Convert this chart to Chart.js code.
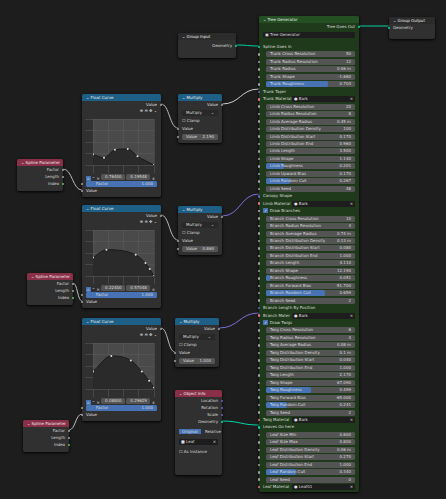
<!DOCTYPE html>
<html lang="en">
<head>
<meta charset="UTF-8">
<title>Tree Generator nodes</title>
<script src="https://cdn.jsdelivr.net/npm/chart.js@4"></script>
<style>
  body { margin: 0; width: 446px; height: 499px; background: #1d1d1d; overflow: hidden;
         font-family: "DejaVu Sans", sans-serif; font-size: 4px; color: #ddd;
         background-image: radial-gradient(#2c2c2c 0.6px, transparent 0.7px); background-size: 20px 20px; }
  .node { position: absolute; background: #303030; border-radius: 2px; box-shadow: 0 1px 3px #000; }
  .hd { height: 7px; line-height: 7px; padding-left: 4px; border-radius: 2px 2px 0 0; color: #eee; }
  .row { position: absolute; left: 4px; right: 4px; height: 6px; line-height: 6px; white-space: nowrap; }
  .fld { background: #545454; border-radius: 1.5px; padding: 0 4px; overflow: hidden; }
  .fld span { float: right; }
  .bar { position: absolute; left: 0; top: 0; bottom: 0; background: #4772b3; border-radius: 1.5px; }
  .lbl { position: relative; }
  .sock { position: absolute; width: 2.5px; height: 2.5px; border-radius: 50%; background: #a1a1a1; top: 1.8px; }
  .mat { background: #1d1d1d; border-radius: 1.5px; padding: 0 2px; }
  canvas { position: absolute; }
  svg { position: absolute; left: 0; top: 0; }
</style>
</head>
<body>
<svg width="446" height="499" id="wires"></svg>
<div id="nodes"></div>
<script>
  // tree generator inputs: [label, value, kind, fraction]
  const treeRows = [
    ['Spline Goes In', '', 's'],
    ['Trunk Cross Resolution', '50', 'f'], ['Trunk Radius Resolution', '12', 'f'],
    ['Trunk Radius', '0.06 m', 'f'], ['Trunk Shape', '-1.660', 'f'],
    ['Trunk Roughness', '0.704', 'b', 0.70], ['Trunk Taper', '', 's'],
    ['Trunk Material', 'Bark', 'm'],
    ['Limb Cross Resolution', '20', 'f'], ['Limb Radius Resolution', '8', 'f'],
    ['Limb Average Radius', '0.45 m', 'f'], ['Limb Distribution Density', '100', 'f'],
    ['Limb Distribution Start', '0.170', 'f'], ['Limb Distribution End', '0.960', 'f'],
    ['Limb Length', '3.500', 'f'], ['Limb Shape', '1.140', 'f'],
    ['Limb Roughness', '0.201', 'b', 0.2], ['Limb Upward Bias', '0.170', 'f'],
    ['Limb Random Cull', '0.267', 'b', 0.27], ['Limb Seed', '48', 'f'],
    ['Canopy Shape', '', 's'], ['Limb Material', 'Bark', 'm'], ['Draw Branches', '', 'c'],
    ['Branch Cross Resolution', '10', 'f'], ['Branch Radius Resolution', '4', 'f'],
    ['Branch Average Radius', '0.74 m', 'f'], ['Branch Distribution Density', '0.13 m', 'f'],
    ['Branch Distribution Start', '0.080', 'f'], ['Branch Distribution End', '1.000', 'f'],
    ['Branch Length', '4.110', 'f'], ['Branch Shape', '12.190', 'f'],
    ['Branch Roughness', '0.051', 'b', 0.05], ['Branch Forward Bias', '-51.700', 'f'],
    ['Branch Random Cull', '0.659', 'b', 0.66], ['Branch Seed', '2', 'f'],
    ['Branch Length By Position', '', 's'], ['Branch Mater', 'Bark', 'm'], ['Draw Twigs', '', 'c'],
    ['Twig Cross Resolution', '6', 'f'], ['Twig Radius Resolution', '4', 'f'],
    ['Twig Average Radius', '0.08 m', 'f'], ['Twig Distribution Density', '0.1 m', 'f'],
    ['Twig Distribution Start', '0.040', 'f'], ['Twig Distribution End', '1.000', 'f'],
    ['Twig Length', '2.170', 'f'], ['Twig Shape', '67.090', 'f'],
    ['Twig Roughness', '0.499', 'b', 0.5], ['Twig Forward Bias', '-65.000', 'f'],
    ['Twig Random Cull', '0.241', 'b', 0.24], ['Twig Seed', '2', 'f'],
    ['Twig Material', 'Bark', 'm'], ['Leaves Go here', '', 's'],
    ['Leaf Size Min', '0.600', 'f'], ['Leaf Size Max', '0.800', 'f'],
    ['Leaf Distribution Density', '0.06 m', 'f'], ['Leaf Distribution Start', '0.270', 'f'],
    ['Leaf Distribution End', '1.000', 'f'], ['Leaf Random Cull', '0.340', 'b', 0.34],
    ['Leaf Seed', '0', 'f'], ['Leaf Material', 'Leaf01', 'm']
  ];
  // float curve control points (x, y in 0..1)
  const curve1X = [0, 0.18, 0.36, 0.57, 0.73, 1];
  const curve1Y = [0.23, 0.16, 0.33, 0.35, 0.19, 0];
  const curve2X = [0, 0.22, 0.70, 0.86, 0.93, 1];
  const curve2Y = [0.40, 0.57, 0.46, 0.28, 0.15, 0];
  const curve3X = [0, 0.30, 0.62, 0.80, 0.92, 1];
  const curve3Y = [0.38, 0.72, 0.62, 0.38, 0.18, 0.03];
  const curveReadouts = [['0.76400', '0.19548'], ['0.22400', '0.57048'], ['0.08800', '0.29629']];
  const multiplyValues = ['2.190', '0.860', '1.000'];

  const root = document.getElementById('nodes');
  function node(x, y, w, h, title, color, bodyColor) {
    const n = document.createElement('div');
    n.className = 'node';
    Object.assign(n.style, { left: x + 'px', top: y + 'px', width: w + 'px', height: h + 'px' });
    if (bodyColor) n.style.background = bodyColor;
    n.innerHTML = '<div class="hd" style="background:' + color + '">⌄ ' + title + '</div>';
    root.appendChild(n);
    return n;
  }
  function row(n, y, html, cls, right) {
    const r = document.createElement('div');
    r.className = 'row ' + (cls || '');
    r.style.top = y + 'px';
    if (right) r.style.textAlign = 'right';
    r.innerHTML = html;
    n.appendChild(r);
    return r;
  }
  function sock(n, x, y, c) {
    const s = document.createElement('div');
    s.className = 'sock';
    Object.assign(s.style, { left: x + 'px', top: (y + 1.8) + 'px', background: c || '#a1a1a1' });
    n.appendChild(s);
  }

  // Group input / output
  let gi = node(178, 33, 58, 25, 'Group Input', '#2b2b2b');
  row(gi, 10, 'Geometry', '', true); sock(gi, 56.5, 10, '#00d6a3');
  let go = node(389, 17, 46, 22, 'Group Output', '#2b2b2b');
  row(go, 8, 'Geometry'); sock(go, -1.5, 8, '#00d6a3');

  // Tree generator
  let tg = node(259, 16, 100, 476, 'Tree Generator', '#245024', '#1f3a1a');
  row(tg, 8, 'Tree Goes Out', '', true); sock(tg, 98.5, 8, '#00d6a3');
  row(tg, 16, '▣ Tree Generator', 'mat');
  treeRows.forEach((r, i) => {
    const y = 28 + i * 7.46;
    const [label, val, kind, frac] = r;
    let c = kind === 's' ? (label.startsWith('Spline') || label.startsWith('Leaves') ? '#00d6a3' : '#6363c7')
          : kind === 'm' ? '#eb7582' : kind === 'c' ? '#cca6d6' : '#a1a1a1';
    sock(tg, -1.5, y, c);
    if (kind === 's') row(tg, y, label);
    else if (kind === 'c') row(tg, y, '<span style="color:#fff;background:#4772b3;padding:0 1px">✓</span> ' + label);
    else if (kind === 'm') row(tg, y, label + ' <span class="mat" style="position:absolute;left:29px;right:0">● ' + val + '<span style="float:right">×</span></span>');
    else {
      const e = row(tg, y, (kind === 'b' ? '<div class="bar" style="width:' + (frac * 100) + '%"></div>' : '') +
        '<span>' + val + '</span><span class="lbl" style="float:none">' + label + '</span>', 'fld');
      e.style.left = '7px';
    }
  });

  // curve groups
  const groups = [
    { fx: 82, fy: 94, mx: 178, my: 94, sx: 17, sy: 159, X: curve1X, Y: curve1Y },
    { fx: 82, fy: 205, mx: 178, my: 206, sx: 27, sy: 273, X: curve2X, Y: curve2Y },
    { fx: 82, fy: 318, mx: 175, my: 318, sx: 23, sy: 420, X: curve3X, Y: curve3Y }
  ];
  const wires = [];
  groups.forEach((g, k) => {
    let fc = node(g.fx, g.fy, 79, 103, 'Float Curve', '#1d5f86');
    row(fc, 8, 'Value', '', true); sock(fc, 77.5, 8);
    row(fc, 14, '⊕ ⊖ ✥ ⌄', '', true);
    row(fc, 80, '<span style="background:#4772b3;padding:0 1px">⌂</span> ⌃ ✕ <span class="fld" style="display:inline-block;width:16px">' + curveReadouts[k][0] + '</span> <span class="fld" style="display:inline-block;width:16px">' + curveReadouts[k][1] + '</span> ×');
    let f = row(fc, 87, '<span>1.000</span>Factor', 'fld'); f.style.background = '#4772b3'; f.style.paddingLeft = '10px';
    sock(fc, -1.5, 87); row(fc, 94, 'Value'); sock(fc, -1.5, 94);
    const cv = document.createElement('canvas');
    Object.assign(cv.style, { left: (g.fx + 3) + 'px', top: (g.fy + 21) + 'px' });
    cv.width = 73; cv.height = 58; cv.style.width = '73px'; cv.style.height = '58px';
    root.appendChild(cv);
    new Chart(cv, {
      type: 'line',
      data: { datasets: [{ data: g.X.map((x, i) => ({ x, y: g.Y[i] })), borderColor: '#111', borderWidth: 0.8,
        fill: 'start', backgroundColor: '#2a2a2a', tension: 0.4, cubicInterpolationMode: 'monotone',
        pointRadius: 1, pointBackgroundColor: '#ddd', pointBorderWidth: 0 }] },
      options: { responsive: false, animation: false, events: [],
        plugins: { legend: { display: false }, tooltip: { enabled: false } },
        layout: { padding: 0 },
        scales: { x: { type: 'linear', min: 0, max: 1, ticks: { display: false, stepSize: 0.25 }, grid: { color: '#5c5c5c', lineWidth: 0.5 }, border: { display: false } },
                  y: { min: 0, max: 1, ticks: { display: false, stepSize: 0.25 }, grid: { color: '#5c5c5c', lineWidth: 0.5 }, border: { display: false } } } },
      plugins: [{ beforeDraw(c) { const a = c.chartArea; c.ctx.fillStyle = '#4a4a4a'; c.ctx.fillRect(a.left, a.top, a.width, a.height); } }]
    });
    let m = node(g.mx, g.my, 44, 49, 'Multiply', '#1d5f86');
    row(m, 8, 'Value', '', true); sock(m, 42.5, 8);
    row(m, 16, 'Multiply <span style="float:right">⌄</span>', 'fld').style.background = '#282828';
    row(m, 24, '☐ Clamp');
    row(m, 32, 'Value'); sock(m, -1.5, 32);
    row(m, 40, '<span>' + multiplyValues[k] + '</span>Value', 'fld'); sock(m, -1.5, 40);
    let sp = node(g.sx, g.sy, 46, 32, 'Spline Parameter', '#8a2f48');
    row(sp, 8, 'Factor', '', true); sock(sp, 44.5, 8);
    row(sp, 15, 'Length', '', true); sock(sp, 44.5, 15);
    row(sp, 22, 'Index', '', true); sock(sp, 44.5, 22, '#5fbf5f');
    wires.push([g.sx + 46, g.sy + 10, g.fx, g.fy + 96, '#bbb']);
    wires.push([g.fx + 79, g.fy + 10, g.mx, g.my + 34, '#bbb']);
  });
  let oi = node(175, 390, 47, 85, 'Object Info', '#8a2f48');
  ['Location', 'Rotation', 'Scale', 'Geometry'].forEach((t, i) => { row(oi, 8 + i * 7, t, '', true); sock(oi, 45.5, 8 + i * 7, i === 3 ? '#00d6a3' : '#6363c7'); });
  row(oi, 39, '<span style="background:#4772b3;padding:0 3px">Original</span> <span style="margin-left:3px">Relative</span>');
  row(oi, 49, '■ Leaf <span style="float:right">×</span>', 'mat');
  row(oi, 59, '☐ As Instance');

  wires.push([236, 45, 259, 46, '#00d6a3'], [359, 26, 389, 26, '#00d6a3'], [222, 421, 259, 425, '#00d6a3']);
  wires.push([222, 104, 259, 89, '#ccc'], [222, 216, 259, 194, '#7a6fd6'], [219, 328, 259, 313, '#7a6fd6']);
  document.getElementById('wires').innerHTML = wires.map(([x1, y1, x2, y2, c]) => {
    const d = (x2 - x1) / 2;
    return '<path d="M' + x1 + ' ' + y1 + ' C' + (x1 + d) + ' ' + y1 + ' ' + (x2 - d) + ' ' + y2 + ' ' + x2 + ' ' + y2 + '" stroke="' + c + '" stroke-width="1" fill="none"/>';
  }).join('');
</script>
</body>
</html>
